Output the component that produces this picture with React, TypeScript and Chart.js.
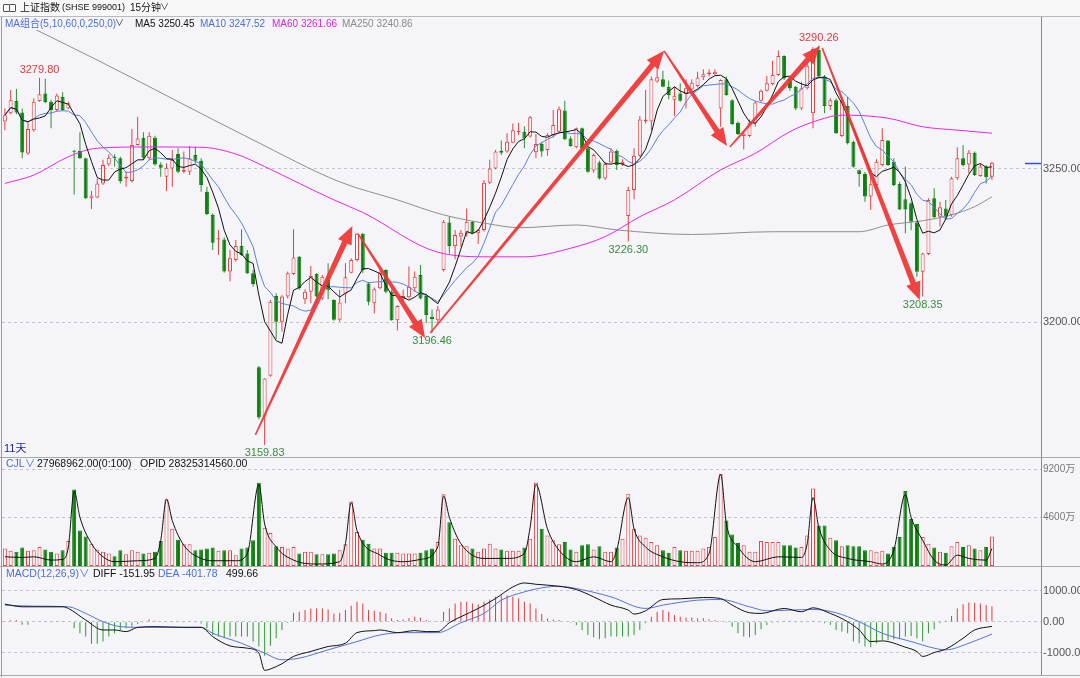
import React, { useEffect, useRef } from 'react';
import { Chart, registerables } from 'chart.js';

Chart.register(...registerables);

// ---------------- data ----------------
const openP = [
  3265.5,3268.2,3272.2,3268.5,3255.1,3262.7,3272.2,3274.7,3272.0,3269.3,3273.6,3269.8,
  3255.9,3255.9,3253.5,3240.4,3240.7,3245.3,3251.5,3254.0,3253.5,3246.9,3246.1,3257.8,3260.2,3253.5,3260.2,3251.5,
  3247.5,3250.2,3254.9,3249.1,3249.1,3254.6,3252.7,3242.6,3235.0,3227.0,3227.0,3216.5,3220.3,3224.8,3222.4,3215.9,
  3185.2,3169.1,3182.4,3208.5,3200.1,3208.3,3215.7,3221.3,3207.4,3209.9,3215.7,3207.7,3213.7,3207.2,3200.7,3209.2,
  3216.1,3220.3,3228.8,3212.6,3206.1,3211.0,3217.0,3209.9,3200.6,3207.4,3208.1,3211.0,3215.4,3208.5,3201.7,3200.6,
  3217.0,3232.5,3224.8,3227.9,3228.8,3232.8,3229.0,3230.1,3245.5,3250.2,3256.0,3255.7,3258.6,3262.1,3262.2,3260.6,
  3255.5,3258.2,3256.2,3261.1,3262.2,3269.1,3260.0,3257.1,3263.3,3256.8,3249.5,3252.1,3246.9,3252.1,3256.0,3251.6,
  3234.6,3243.1,3254.3,3265.5,3265.5,3278.6,3279.3,3276.9,3272.6,3274.7,3274.5,3276.0,3277.1,3280.0,3281.0,3281.0,
  3269.8,3279.3,3272.5,3265.1,3260.8,3260.8,3265.1,3272.3,3275.6,3277.8,3280.7,3286.9,3279.6,3276.9,3269.8,3276.4,
  3268.2,3289.0,3280.2,3270.6,3272.5,3260.8,3270.6,3258.9,3249.6,3248.4,3241.0,3244.8,3251.3,3259.3,3252.4,3245.1,
  3240.1,3238.8,3232.5,3216.4,3222.2,3240.4,3234.4,3237.1,3235.0,3247.0,3253.5,3251.5,3255.3,3247.7,3250.8,3247.5,
];
const highP = [
  3269.8,3275.8,3276.1,3269.8,3265.5,3273.1,3279.8,3279.5,3272.6,3274.7,3275.1,3272.0,
  3256.2,3262.0,3253.7,3242.8,3246.9,3253.0,3254.8,3254.8,3254.0,3249.3,3263.1,3267.1,3262.0,3262.0,3260.9,3252.2,
  3251.8,3256.2,3256.8,3255.7,3257.5,3257.3,3253.5,3244.2,3235.5,3230.1,3227.7,3223.5,3226.8,3230.3,3223.5,3217.0,
  3185.6,3181.6,3207.2,3209.4,3208.8,3216.5,3230.3,3221.6,3210.7,3218.3,3215.9,3215.4,3219.2,3207.4,3210.5,3219.2,
  3220.8,3229.2,3229.0,3213.1,3211.3,3217.0,3217.2,3210.5,3205.5,3210.5,3218.1,3216.5,3218.6,3209.2,3204.1,3205.2,
  3233.3,3234.4,3230.1,3230.1,3237.1,3233.1,3230.3,3246.4,3253.0,3256.2,3259.3,3261.7,3264.9,3265.1,3264.0,3267.3,
  3261.4,3258.9,3261.7,3269.3,3270.4,3272.3,3260.6,3263.6,3263.6,3257.3,3255.1,3252.7,3252.4,3256.8,3256.4,3253.2,
  3244.2,3256.8,3267.3,3275.8,3280.2,3283.7,3282.1,3278.9,3276.9,3278.0,3279.3,3279.3,3281.8,3282.6,3282.6,3282.6,
  3279.3,3280.2,3272.8,3265.5,3262.2,3266.2,3272.3,3276.0,3280.4,3285.4,3288.7,3287.2,3280.2,3277.1,3278.5,3284.5,
  3289.8,3290.26,3280.7,3273.1,3273.1,3273.5,3273.6,3259.3,3249.9,3249.0,3249.7,3253.2,3263.3,3259.5,3253.5,3245.8,
  3250.8,3239.3,3232.8,3222.6,3240.4,3243.7,3239.3,3239.9,3247.5,3257.1,3257.8,3256.2,3255.7,3251.9,3251.3,3252.4,
];
const lowP = [
  3262.7,3267.9,3267.9,3253.5,3254.6,3262.2,3272.0,3271.5,3263.3,3268.7,3269.0,3269.6,
  3241.7,3253.3,3240.2,3236.9,3240.4,3244.8,3251.1,3250.8,3245.3,3244.2,3245.6,3257.6,3253.0,3253.0,3251.1,3247.5,
  3242.8,3244.2,3248.6,3248.6,3248.0,3251.9,3242.6,3235.0,3223.5,3221.9,3216.1,3213.2,3219.7,3221.6,3215.7,3211.5,
  3168.2,3159.83,3182.1,3194.4,3196.8,3207.7,3215.4,3210.5,3205.9,3206.1,3208.1,3207.2,3207.4,3200.4,3200.1,3206.1,
  3215.9,3219.8,3215.9,3205.5,3202.8,3210.7,3209.4,3200.4,3197.2,3206.6,3207.7,3209.9,3207.4,3199.6,3196.46,3199.6,
  3216.5,3222.4,3220.5,3224.6,3227.9,3228.8,3225.5,3229.5,3245.1,3249.9,3254.6,3255.3,3258.4,3261.1,3256.8,3260.3,
  3253.6,3254.0,3254.3,3260.3,3261.9,3259.5,3257.3,3256.8,3256.2,3248.8,3248.8,3246.6,3246.4,3251.9,3249.7,3251.0,
  3226.3,3240.1,3254.0,3264.9,3262.7,3278.2,3276.7,3272.8,3267.3,3272.0,3269.8,3275.8,3276.7,3279.1,3280.2,3280.7,
  3263.8,3273.9,3264.4,3261.1,3256.4,3260.4,3263.8,3272.0,3275.3,3277.4,3280.4,3279.1,3275.6,3269.3,3269.3,3276.0,
  3263.3,3279.6,3268.2,3269.3,3261.4,3260.4,3258.0,3250.4,3244.2,3239.3,3236.6,3244.2,3250.8,3251.0,3244.4,3236.6,
  3229.0,3230.0,3214.8,3208.35,3221.9,3233.9,3231.2,3233.3,3234.4,3246.4,3250.8,3248.6,3247.7,3247.5,3245.3,3246.4,
];
const closeP = [
  3267.6,3272.5,3268.5,3255.4,3263.1,3272.0,3274.4,3271.8,3269.3,3274.0,3269.3,3271.5,
  3255.6,3253.5,3240.4,3241.3,3245.3,3251.3,3253.7,3253.5,3246.1,3247.5,3257.8,3260.0,3253.7,3260.9,3251.5,3250.4,
  3250.4,3252.9,3249.1,3249.7,3253.5,3252.7,3244.8,3235.3,3225.9,3227.4,3216.5,3220.8,3224.8,3221.9,3215.9,3212.4,
  3168.8,3181.5,3206.6,3200.1,3208.3,3215.9,3221.1,3211.0,3209.9,3215.0,3208.3,3214.8,3210.5,3200.7,3206.4,3214.6,
  3220.3,3228.8,3217.0,3206.6,3210.7,3216.1,3209.9,3200.6,3205.2,3208.5,3211.5,3214.8,3207.7,3202.3,3200.9,3204.1,
  3232.8,3224.8,3228.4,3229.2,3232.8,3229.0,3230.1,3245.5,3250.2,3255.7,3255.3,3258.9,3262.7,3262.4,3260.0,3266.9,
  3258.2,3255.7,3261.1,3264.4,3269.5,3259.7,3257.5,3263.3,3256.8,3249.1,3254.6,3246.9,3251.6,3255.7,3251.3,3252.4,
  3243.1,3254.3,3266.2,3266.2,3279.3,3280.0,3276.9,3274.2,3273.9,3272.3,3276.4,3278.2,3279.9,3281.0,3281.5,3281.8,
  3279.1,3274.2,3264.7,3261.4,3261.6,3265.1,3271.7,3275.6,3278.0,3280.7,3286.9,3279.6,3276.4,3269.8,3276.4,3283.7,
  3289.2,3280.2,3270.6,3272.5,3261.7,3272.5,3258.4,3250.7,3248.4,3241.0,3245.0,3252.4,3259.5,3251.3,3244.8,3236.8,
  3236.8,3232.8,3216.4,3222.4,3239.9,3234.2,3237.5,3234.4,3247.0,3253.5,3251.3,3255.3,3248.0,3250.8,3247.3,3252.0,
];

// volume, in 万
const volume = [
  1658,1440,1345,1752,1440,1502,1815,1565,1345,1189,1502,2378,
  7290,3380,2816,2128,1565,1345,1189,939,1502,1126,1502,1345,1189,1252,1345,2378,
  6352,3536,2503,2065,2065,1502,1565,1658,1752,1440,1502,1502,1033,1658,1752,2441,
  7916,3630,3129,1877,1815,1658,1815,1189,1345,1345,1126,1126,1126,1189,1502,2065,
  6133,3223,2503,2128,1658,1658,1252,1252,1252,1189,1189,1189,1252,1502,1658,2284,
  6821,4162,2597,1971,1877,1658,1345,1658,2128,1658,1565,1440,1440,1440,1752,2597,
  7916,3536,2910,2441,2065,2284,1565,1345,1971,2065,1565,1877,1345,1345,1752,2597,
  6884,3536,2910,2691,2284,1971,1502,1252,1815,1502,1440,1440,1440,1658,1815,2754,
  8761,4318,3004,2190,1971,1345,1345,2378,2284,2284,2284,1971,1971,1752,1815,2910,
  7384,3849,3849,2691,2441,1877,1971,1877,1877,1502,1502,1345,1440,1189,1815,2754,
  7134,4475,4005,2754,2128,1752,1345,1252,1877,2284,1815,1971,1658,1502,1815,2797,
];
const volLineIdx = [0,3,5,8,10,11,12,13,15,17,19,23,26,27,28,29,31,34,36,40,42,44,45,47,50,54,58,59,60,61,65,69,72,75,76,77,79,83,87,90,91,92,94,96,99,102,105,106,108,109,111,114,117,120,122,124,125,127,130,134,138,139,140,141,143,146,150,152,154,156,157,159,161,163,165,167,170,171];
const volLineVal = [876,814,876,563,626,1815,7134,4631,2128,876,407,501,720,2441,6352,4318,1971,720,501,501,1189,7760,4005,1815,563,188,407,2128,6039,3379,1033,407,626,1815,6665,4631,2128,720,720,1189,3692,7760,3536,1502,407,876,407,1502,6508,3536,1815,876,407,313,1189,8699,4005,1815,407,876,814,2128,6508,3692,1502,720,407,188,1502,6821,4631,2441,563,94,1033,720,563,1658];

// MACD histogram (x100 units as in the reference)
const macdHist = [
  20,50,50,-100,-100,-20,0,10,-10,10,10,0,
  -215,-376,-484,-720,-720,-645,-484,-376,-269,-215,-161,-75,-30,75,30,-20,
  -20,10,10,-10,10,-10,-60,-215,-430,-484,-538,-484,-484,-484,-484,-645,
  -806,-1107,-785,-538,-269,-40,290,322,376,430,430,430,398,269,290,376,
  516,645,591,376,355,322,269,108,54,75,108,161,129,54,10,20,
  322,430,591,645,645,591,570,645,720,806,860,860,806,752,645,591,
  430,250,100,75,54,0,-32,-108,-269,-430,-505,-570,-538,-484,-484,-484,
  -484,-430,-269,-54,161,322,376,322,215,161,140,140,108,108,75,54,
  10,-32,-161,-376,-484,-505,-430,-247,-108,-32,-10,30,30,-30,-30,-20,
  30,-10,-54,-108,-269,-322,-376,-645,-699,-806,-828,-699,-591,-591,-570,-538,
  -484,-462,-538,-645,-376,-247,-54,30,183,430,570,624,612,591,538,500,
];
const diffIdx = [0,3,10,11,14,17,19,21,23,26,31,34,36,39,42,44,45,46,48,50,53,56,59,61,64,65,68,71,73,75,77,79,82,85,88,90,92,96,99,102,105,108,109,111,114,117,121,124,126,129,131,135,138,140,143,146,148,150,152,156,158,159,161,163,166,168,171];
const diffVal = [570,484,484,430,54,-269,-269,-322,-183,-161,-183,-183,-484,-785,-860,-1021,-1580,-1537,-1365,-1129,-967,-806,-699,-355,-290,-269,-355,-290,-322,-322,-32,161,430,752,1129,1258,1215,1150,1043,806,538,376,247,355,720,742,785,752,538,290,269,430,322,451,269,0,-269,-645,-624,-828,-968,-1129,-1000,-892,-538,-269,-152];
const deaIdx = [0,5,11,14,17,20,23,34,36,41,45,48,51,56,61,65,69,75,79,83,86,90,93,96,99,105,111,114,120,124,129,132,136,140,144,148,152,157,161,163,167,171];
const deaVal = [538,505,484,269,0,-161,-183,-183,-376,-699,-1021,-1236,-1183,-914,-645,-430,-355,-355,-32,269,699,968,1100,1150,1075,806,430,538,699,720,484,355,376,398,290,0,-376,-645,-860,-914,-699,-402];

// long moving averages (read at key points)
const ma60Idx = [0,5,11,16,25,34,40,45,51,57,62,75,84,90,98,104,110,116,124,130,136,141,145,153,159,165,171];
const ma60Val = [3245.3,3248.0,3254.0,3256.8,3257.2,3257.1,3254.9,3250.8,3245.3,3239.9,3235.8,3222.8,3221.3,3221.3,3224.1,3227.9,3234.4,3239.9,3249.7,3255.1,3262.2,3266.0,3267.6,3266.6,3263.8,3262.7,3261.7];
const ma250Idx = [0,16,43,58,68,76,85,89,99,106,119,133,148,153,159,164,168,171];
const ma250Val = [3300.5,3285.6,3259.5,3245.8,3239.9,3235.0,3231.7,3230.8,3231.7,3230.1,3228.6,3229.5,3229.5,3231.7,3233.1,3235.0,3237.7,3240.9];

// axis ticks
const priceTicks = [3200, 3250];
const volTicks = [4600, 9200];
const macdTicks = [-1000, 0, 1000];

// marked extremes and drawn trend arrows (bar index, price)
const extremeIdx = [6, 45, 74, 108, 141, 159];
const extremeKind = ['high', 'low', 'low', 'low', 'high', 'low'];
const arrowFrom = [[43.4, 3163.1], [61.2, 3228.8], [73.7, 3196.4], [114.2, 3288.6], [125.6, 3257.2], [141.6, 3289.5]];
const arrowTo = [[60.2, 3231.4], [72.8, 3194.8], [114.2, 3288.6], [125.1, 3257.5], [141.2, 3290.2], [158.5, 3207.2]];

const SLOTS = 180;

// ---------------- styling ----------------
const BG = '#f4f4f9';
const RED = '#e8403e';
const GREEN = '#0b7d0b';
const WICK_GREEN = '#2f8f2f';
const BLUE = '#4a6fd8';
const FONT = '"Liberation Sans", "Noto Sans CJK SC", sans-serif';

const labels = Array.from({ length: SLOTS }, (_, i) => i);
const N = closeP.length;
const isUp = (i: number) => closeP[i] >= openP[i];

function sparse(idx: number[], val: number[]) {
  const arr: (number | null)[] = new Array(N).fill(null);
  idx.forEach((b, k) => { arr[b] = val[k]; });
  return arr;
}
function movingAverage(src: number[], n: number) {
  return src.map((_, i) => {
    const w = src.slice(Math.max(0, i - n + 1), i + 1);
    return w.reduce((a, b) => a + b, 0) / w.length;
  });
}

function yAxis(min: number, max: number, ticks: number[], fmt: (v: number) => string, size = 11, color = '#555') {
  return {
    position: 'right',
    min,
    max,
    afterBuildTicks: (s: any) => { s.ticks = ticks.map((v) => ({ value: v })); },
    afterFit: (s: any) => { s.width = 39; s.paddingTop = 0; s.paddingBottom = 0; },
    grid: { color: '#c4c4ca', drawTicks: false, lineWidth: 1 },
    border: { display: true, color: '#8a8a8a', width: 1, dash: [3, 3] },
    ticks: { padding: 2, color, font: { size, family: FONT }, callback: (v: any) => fmt(Number(v)) },
  };
}

const xAxis = { type: 'category', display: false, offset: true, grid: { display: false } };

function baseOptions(y: any) {
  return {
    responsive: false,
    animation: false,
    devicePixelRatio: 1,
    events: [],
    layout: { padding: { left: 2, right: 0, top: 0, bottom: 0 } },
    plugins: { legend: { display: false }, tooltip: { enabled: false } },
    scales: { x: xAxis, y },
  };
}

function drawArrow(ctx: CanvasRenderingContext2D, x0: number, y0: number, x1: number, y1: number) {
  const dx = x1 - x0, dy = y1 - y0;
  const len = Math.hypot(dx, dy);
  const ux = dx / len, uy = dy / len;
  const nx = -uy, ny = ux;
  const headLen = 18, headW = 7.5, tailW = 0.8, neckW = 2.8;
  const bx = x1 - ux * headLen, by = y1 - uy * headLen;
  ctx.beginPath();
  ctx.moveTo(x0 + nx * tailW, y0 + ny * tailW);
  ctx.lineTo(bx + nx * neckW, by + ny * neckW);
  ctx.lineTo(bx + nx * headW, by + ny * headW);
  ctx.lineTo(x1, y1);
  ctx.lineTo(bx - nx * headW, by - ny * headW);
  ctx.lineTo(bx - nx * neckW, by - ny * neckW);
  ctx.lineTo(x0 - nx * tailW, y0 - ny * tailW);
  ctx.closePath();
  ctx.fill();
}

const pricePlugin = {
  id: 'priceDecor',
  afterDatasetsDraw(chart: any) {
    const { ctx, chartArea } = chart;
    const x = chart.scales.x, y = chart.scales.y;
    ctx.save();
    // trend arrows
    ctx.fillStyle = 'rgba(240,52,52,0.93)';
    arrowFrom.forEach((f, k) => {
      const t = arrowTo[k];
      drawArrow(ctx, x.getPixelForValue(f[0]), y.getPixelForValue(f[1]), x.getPixelForValue(t[0]), y.getPixelForValue(t[1]));
    });
    // extreme labels
    ctx.font = `11px ${FONT}`;
    ctx.textAlign = 'center';
    extremeIdx.forEach((bi, k) => {
      const high = extremeKind[k] === 'high';
      const v = high ? highP[bi] : lowP[bi];
      const px = x.getPixelForValue(bi);
      const py = y.getPixelForValue(v);
      ctx.fillStyle = high ? '#e03a3a' : '#3a8d3a';
      ctx.textBaseline = high ? 'bottom' : 'top';
      ctx.fillText(v.toFixed(2), px, high ? py - 2 : py + 3);
    });
    // last price marker
    const ly = Math.round(y.getPixelForValue(closeP[N - 1])) + 0.5;
    ctx.strokeStyle = '#3050e0';
    ctx.lineWidth = 1.5;
    ctx.beginPath();
    ctx.moveTo(chartArea.right - 16, ly);
    ctx.lineTo(chartArea.right, ly);
    ctx.stroke();
    ctx.restore();
  },
};

const T = ({ x, y, c, s = 11, children }: any) => (
  <span style={{ position: 'absolute', left: x, top: y, color: c || '#111', fontSize: s, lineHeight: '13px', whiteSpace: 'nowrap' }}>{children}</span>
);

export default function App() {
  const priceRef = useRef<HTMLCanvasElement>(null);
  const volRef = useRef<HTMLCanvasElement>(null);
  const macdRef = useRef<HTMLCanvasElement>(null);

  useEffect(() => {
    const ma5 = movingAverage(closeP, 5);
    const ma10 = movingAverage(closeP, 10);
    const upColor = (i: number) => (isUp(i) ? RED : GREEN);
    const bodyFill = (i: number) => (isUp(i) ? BG : GREEN);
    const wickColor = (i: number) => (isUp(i) ? RED : WICK_GREEN);
    const idxs = closeP.map((_, i) => i);

    const priceChart = new Chart(priceRef.current as HTMLCanvasElement, {
      type: 'bar',
      data: {
        labels,
        datasets: [
          {
            type: 'bar', data: lowP.map((l, i) => [l, highP[i]]), backgroundColor: idxs.map(wickColor),
            barThickness: 1, grouped: false, borderWidth: 0, inflateAmount: 0, order: 6,
          },
          {
            type: 'bar', data: openP.map((o, i) => [o, closeP[i]]), backgroundColor: idxs.map(bodyFill),
            borderColor: idxs.map(upColor), borderWidth: 1, borderSkipped: false, barThickness: 4,
            minBarLength: 1, grouped: false, inflateAmount: 0, order: 5,
          },
          { type: 'line', data: sparse(ma250Idx, ma250Val), borderColor: '#8e8e8e', borderWidth: 1, pointRadius: 0, spanGaps: true, cubicInterpolationMode: 'monotone', order: 4 },
          { type: 'line', data: sparse(ma60Idx, ma60Val), borderColor: '#e626e6', borderWidth: 1, pointRadius: 0, spanGaps: true, cubicInterpolationMode: 'monotone', order: 3 },
          { type: 'line', data: ma10, borderColor: '#5a80e0', borderWidth: 1, pointRadius: 0, order: 2 },
          { type: 'line', data: ma5, borderColor: '#111111', borderWidth: 1, pointRadius: 0, order: 1 },
        ],
      } as any,
      options: baseOptions(yAxis(3155.56, 3295.42, priceTicks, (v) => v.toFixed(2))) as any,
      plugins: [pricePlugin],
    });

    const volChart = new Chart(volRef.current as HTMLCanvasElement, {
      type: 'bar',
      data: {
        labels,
        datasets: [
          {
            type: 'bar', data: volume, backgroundColor: idxs.map(bodyFill), borderColor: idxs.map(upColor),
            borderWidth: 1, borderSkipped: false, barThickness: 4, grouped: false, inflateAmount: 0, order: 2,
          },
          { type: 'line', data: sparse(volLineIdx, volLineVal), borderColor: '#111', borderWidth: 1, pointRadius: 0, spanGaps: true, cubicInterpolationMode: 'monotone', order: 1 },
        ],
      } as any,
      options: baseOptions(yAxis(0, 10275, volTicks, (v) => `${v}万`, 10, '#777')) as any,
    });

    const macdChart = new Chart(macdRef.current as HTMLCanvasElement, {
      type: 'bar',
      data: {
        labels,
        datasets: [
          {
            type: 'bar', data: macdHist, backgroundColor: macdHist.map((v) => (v >= 0 ? '#e23c3c' : '#2f9a2f')),
            barThickness: 1, grouped: false, borderWidth: 0, inflateAmount: 0, order: 3,
          },
          { type: 'line', data: sparse(deaIdx, deaVal), borderColor: '#4f74dc', borderWidth: 1, pointRadius: 0, spanGaps: true, cubicInterpolationMode: 'monotone', order: 2 },
          { type: 'line', data: sparse(diffIdx, diffVal), borderColor: '#111', borderWidth: 1, pointRadius: 0, spanGaps: true, cubicInterpolationMode: 'monotone', order: 1 },
        ],
      } as any,
      options: baseOptions(yAxis(-1731, 1776, macdTicks, (v) => v.toFixed(2))) as any,
    });

    return () => { priceChart.destroy(); volChart.destroy(); macdChart.destroy(); };
  }, []);

  const line = (style: any) => <div style={{ position: 'absolute', background: '#a9a9ae', ...style }} />;

  return (
    <div style={{ position: 'fixed', left: 0, top: 0, width: 1080, height: 678, background: BG, overflow: 'hidden', fontFamily: FONT }}>
      <div style={{ position: 'absolute', left: 0, top: 0, width: 1080, height: 16, background: '#f8f8f8', borderBottom: '1px solid #b9b9be' }} />
      <canvas ref={priceRef} width={1080} height={428} style={{ position: 'absolute', left: 0, top: 30 }} />
      <canvas ref={volRef} width={1080} height={108} style={{ position: 'absolute', left: 0, top: 458 }} />
      <canvas ref={macdRef} width={1080} height={108} style={{ position: 'absolute', left: 0, top: 567 }} />

      {line({ left: 0, top: 457, width: 1080, height: 1 })}
      {line({ left: 0, top: 566, width: 1080, height: 1 })}
      {line({ left: 0, top: 675, width: 1080, height: 1 })}
      {line({ left: 1, top: 17, width: 1, height: 660, background: '#9a9a9f' })}
      {line({ left: 1041, top: 17, width: 1, height: 14, background: '#8a8a8a' })}

      {/* header row 1 */}
      <span style={{ position: 'absolute', left: 3, top: 4, width: 5, height: 6, border: '1px solid #555', borderRadius: 1 }} />
      <span style={{ position: 'absolute', left: 9, top: 4, width: 5, height: 6, border: '1px solid #555', borderRadius: 1 }} />
      <T x={20} y={1} s={10}>上证指数</T>
      <T x={62} y={1} s={9}>(SHSE 999001)</T>
      <T x={130} y={1} s={10}>15分钟</T>
      <T x={160} y={1} s={9} c="#333">∨</T>

      {/* header row 2 */}
      <T x={5} y={17} s={10} c={BLUE}>MA组合(5,10,60,0,250,0)</T>
      <T x={115} y={17} s={9} c="#333">∨</T>
      <T x={135} y={17} s={10}>MA5 3250.45</T>
      <T x={200} y={17} s={10} c={BLUE}>MA10 3247.52</T>
      <T x={272} y={17} s={10} c="#e020e0">MA60 3261.66</T>
      <T x={342} y={17} s={10} c="#8a8a8a">MA250 3240.86</T>

      <T x={4} y={442} s={11} c="#2424a0">11天</T>

      {/* volume header */}
      <T x={6} y={457} s={10.5} c={BLUE}>CJL∨</T>
      <T x={37} y={457} s={10.5}>27968962.00(0:100)</T>
      <T x={140} y={457} s={10.5}>OPID 28325314560.00</T>

      {/* macd header */}
      <T x={6} y={567} s={10.5} c={BLUE}>MACD(12,26,9)∨</T>
      <T x={93} y={567} s={10.5}>DIFF -151.95</T>
      <T x={158} y={567} s={10.5} c={BLUE}>DEA -401.78</T>
      <T x={226} y={567} s={10.5}>499.66</T>
    </div>
  );
}
